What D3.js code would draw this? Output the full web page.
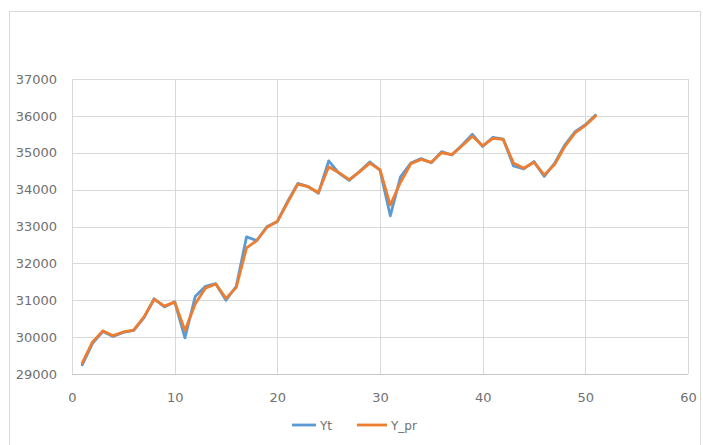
<!DOCTYPE html>
<html>
<head>
<meta charset="utf-8">
<script src="https://cdn.jsdelivr.net/npm/d3@7"></script>
<style>
  html, body { margin: 0; padding: 0; background: #ffffff; }
  svg text { font-family: "DejaVu Sans", "Liberation Sans", sans-serif; fill: #707070; }
</style>
</head>
<body>
<svg id="chart" width="703" height="445"></svg>
<script>
// Observed series and its fitted values, period 1..51
const periods = d3.range(1, 52);
const yt = [29250, 29830, 30150, 30020, 30130, 30180, 30520, 31040, 30820, 30960,
            29980, 31100, 31380, 31450, 31000, 31380, 32720, 32620, 33000, 33130,
            33680, 34170, 34080, 33900, 34780, 34450, 34250, 34490, 34750, 34530,
            33290, 34350, 34720, 34840, 34730, 35030, 34940, 35210, 35500, 35170,
            35420, 35370, 34640, 34560, 34760, 34360, 34710, 35210, 35570, 35760, 36020];
const ypr = [29300, 29870, 30170, 30040, 30140, 30190, 30540, 31030, 30840, 30950,
             30180, 30900, 31330, 31440, 31050, 31350, 32420, 32620, 32980, 33140,
             33650, 34150, 34080, 33920, 34620, 34460, 34270, 34480, 34720, 34540,
             33580, 34200, 34700, 34820, 34740, 35000, 34950, 35190, 35450, 35190,
             35390, 35360, 34720, 34580, 34740, 34400, 34680, 35170, 35540, 35740, 36000];
const seriesNames = ["Yt", "Y_pr"];
const seriesColors = ["#5b9bd5", "#ed7d31"];
const yTicks = d3.range(29000, 37001, 1000);
const xTicks = d3.range(0, 61, 10);

const svg = d3.select("#chart");

// Chart frame
svg.append("rect")
  .attr("x", 9.5).attr("y", 11.5).attr("width", 691).attr("height", 450)
  .attr("fill", "#ffffff").attr("stroke", "#d9d9d9").attr("stroke-width", 1);

const x = d3.scaleLinear().domain([0, 60]).range([72, 688]);
const y = d3.scaleLinear().domain([29000, 37000]).range([374, 79]);

// Gridlines
const grid = svg.append("g");
grid.selectAll("line.h").data(yTicks).join("line")
  .attr("x1", x(0)).attr("x2", x(60))
  .attr("y1", d => Math.round(y(d)) + 0.5).attr("y2", d => Math.round(y(d)) + 0.5)
  .attr("stroke", d => d === 29000 ? "#c8c8c8" : "#d9d9d9").attr("stroke-width", 1);
grid.selectAll("line.v").data(xTicks).join("line")
  .attr("y1", y(37000)).attr("y2", y(29000))
  .attr("x1", d => Math.round(x(d)) + 0.5).attr("x2", d => Math.round(x(d)) + 0.5)
  .attr("stroke", "#d9d9d9").attr("stroke-width", 1);

// Axes (labels only, lines come from the grid)
const yAxis = svg.append("g").attr("transform", "translate(57,0)")
  .call(d3.axisLeft(y).tickValues(yTicks).tickSize(0).tickPadding(0).tickFormat(d3.format("d")));
const xAxis = svg.append("g").attr("transform", `translate(0,${y(29000) + 11})`)
  .call(d3.axisBottom(x).tickValues(xTicks).tickSize(0).tickPadding(8).tickFormat(d3.format("d")));
[yAxis, xAxis].forEach(a => {
  a.select(".domain").remove();
  a.selectAll("text").attr("font-size", 13).attr("fill", "#707070")
    .style("font-family", "'DejaVu Sans', sans-serif");
});

// Lines
const line = d3.line().x((d, i) => x(periods[i])).y(d => y(d));
[yt, ypr].forEach((vals, k) => {
  svg.append("path").datum(vals)
    .attr("d", line)
    .attr("fill", "none")
    .attr("stroke", seriesColors[k])
    .attr("stroke-width", 2.8)
    .attr("stroke-linejoin", "round")
    .attr("stroke-linecap", "round");
});

// Legend
const legendItems = [{x: 292, tx: 320}, {x: 357, tx: 391}];
const legend = svg.append("g");
seriesNames.forEach((name, k) => {
  legend.append("line")
    .attr("x1", legendItems[k].x).attr("x2", legendItems[k].x + (k === 0 ? 24 : 30))
    .attr("y1", 425).attr("y2", 425)
    .attr("stroke", seriesColors[k]).attr("stroke-width", 2.8);
  legend.append("text")
    .attr("x", legendItems[k].tx).attr("y", 429.5)
    .attr("font-size", 12).text(name);
});
</script>
</body>
</html>
